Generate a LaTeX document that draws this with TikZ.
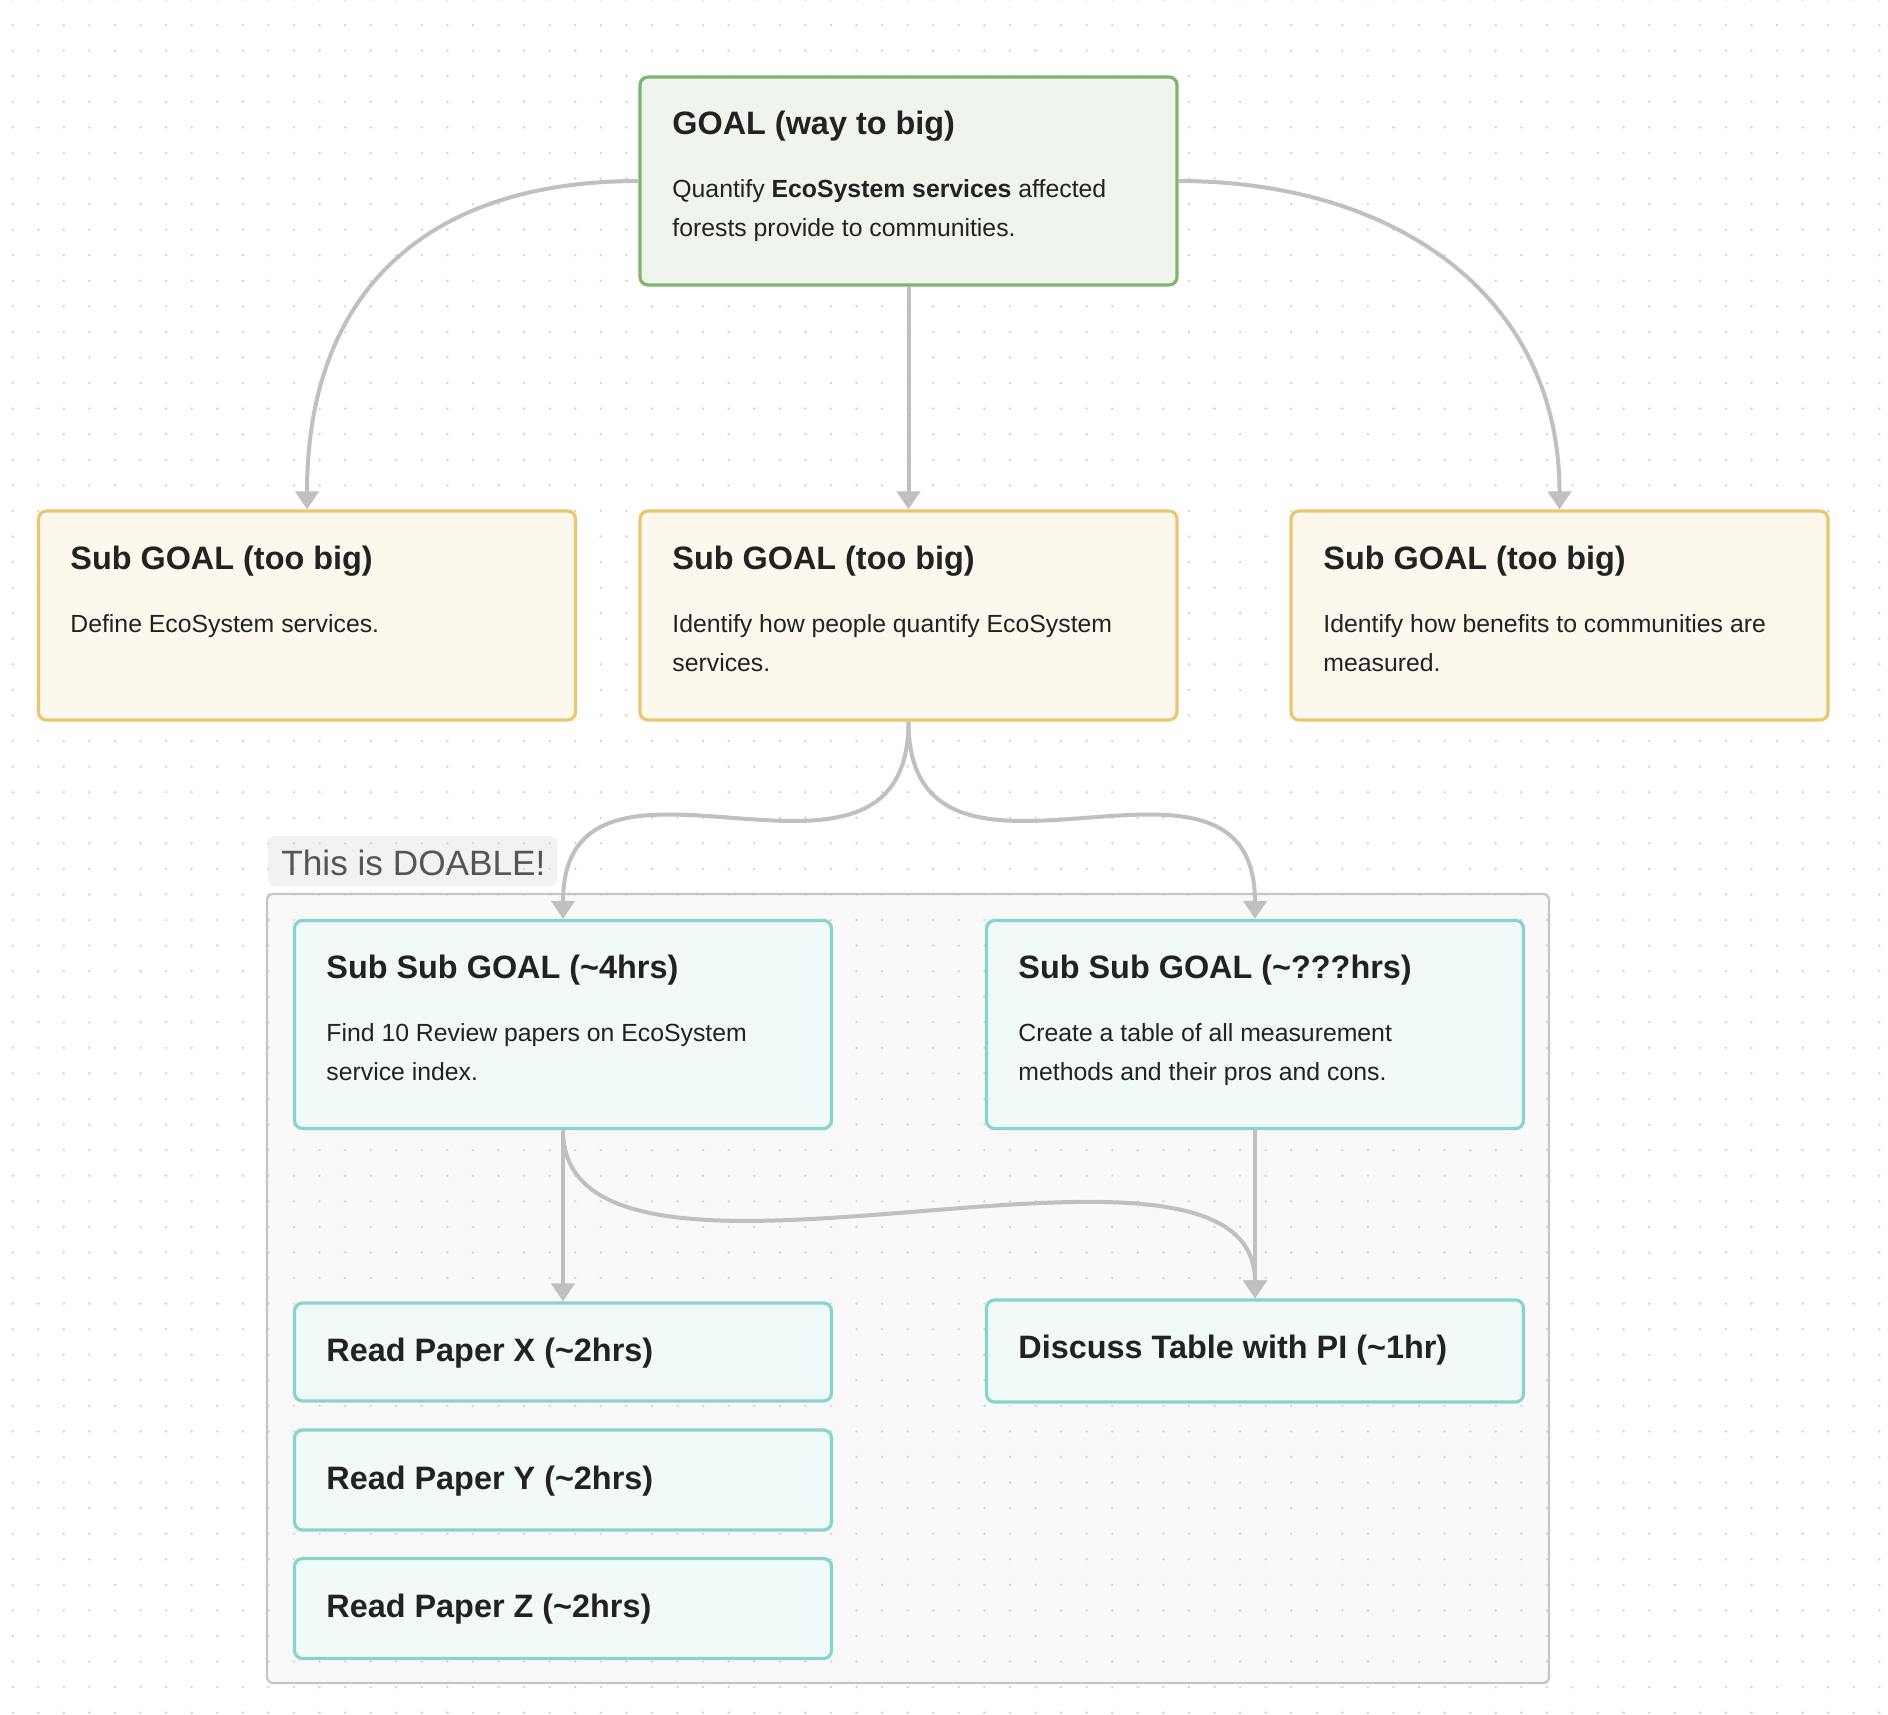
\documentclass[tikz,border=0pt]{standalone}
\usepackage{fontspec}
\setmainfont{Liberation Sans}
\usetikzlibrary{arrows.meta}
\definecolor{goalbd}{HTML}{7DB66B}
\definecolor{goalbg}{HTML}{EFF5EC}
\definecolor{subbd}{HTML}{EAC670}
\definecolor{subbg}{HTML}{FCF8EE}
\definecolor{tealbd}{HTML}{86D3CF}
\definecolor{tealbg}{HTML}{F1F9F9}
\definecolor{grpbg}{HTML}{F9F9F9}
\definecolor{grpbd}{HTML}{C6C6C6}
\definecolor{lblbg}{HTML}{F2F2F2}
\definecolor{txt}{HTML}{222222}
\definecolor{lbltxt}{HTML}{555555}
\definecolor{conncol}{HTML}{C0C0C0}
\definecolor{dotcol}{HTML}{D6D6D6}
\tikzset{
  card/.style={draw, rectangle, rounded corners=4pt, line width=1.6pt, inner sep=0pt, minimum width=268.5pt},
  goalcard/.style={card, draw=goalbd, fill=goalbg},
  subcard/.style={card, draw=subbd, fill=subbg},
  tealcard/.style={card, draw=tealbd, fill=tealbg},
  ttl/.style={anchor=base west, inner sep=0pt, text=txt, font=\bfseries\fontsize{16.2}{19}\selectfont},
  bdy/.style={anchor=base west, inner sep=0pt, text=txt, font=\fontsize{12.4}{19.5}\selectfont},
  conn/.style={draw=conncol, line width=2pt, -{Triangle[width=11.5pt,length=9pt]}}
}
\begin{document}
\begin{tikzpicture}[x=0.5pt,y=-0.5pt]
\useasboundingbox (0,0) rectangle (1888,1714);
\fill[white] (0,0) rectangle (1888,1714);
% group background and label background
\fill[grpbg, rounded corners=3pt] (267,894) rectangle (1549,1683);
\fill[lblbg, rounded corners=3pt] (268,836) rectangle (557,886);
% dot grid
\foreach \i in {0,...,73} {
  \foreach \j in {0,...,67} {
    \fill[dotcol] (12.7+25.57*\i, -0.5+25.57*\j) circle[radius=0.7pt];
  }
}
\draw[grpbd, line width=1.1pt, rounded corners=3pt] (267,894) rectangle (1549,1683);
\node[anchor=base west, inner sep=0pt, text=lbltxt, font=\fontsize{17.6}{20}\selectfont] (lbl) at (281,875) {This is DOABLE!};

% cards
\node[goalcard, minimum height=104pt] (goal) at (908.5,181) {};
\node[subcard, minimum height=104.5pt] (subL) at (307,615.5) {};
\node[subcard, minimum height=104.5pt] (subM) at (908.5,615.5) {};
\node[subcard, minimum height=104.5pt] (subR) at (1559.5,615.5) {};
\node[tealcard, minimum height=104pt] (ssL) at (563,1024.5) {};
\node[tealcard, minimum height=104pt] (ssR) at (1255,1024.5) {};
\node[tealcard, minimum height=49pt] (rpX) at (563,1352) {};
\node[tealcard, minimum height=50pt] (rpY) at (563,1480) {};
\node[tealcard, minimum height=50pt] (rpZ) at (563,1608.5) {};
\node[tealcard, minimum height=51pt] (disc) at (1255,1351) {};

% texts
\node[ttl] (goalT) at (672,134) {GOAL (way to big)};
\node[bdy] (goalB1) at (672,197) {Quantify \textbf{EcoSystem services} affected};
\node[bdy] (goalB2) at (672,236) {forests provide to communities.};

\node[ttl] (subLT) at (70,569) {Sub GOAL (too big)};
\node[bdy] (subLB1) at (70,632) {Define EcoSystem services.};

\node[ttl] (subMT) at (672,569) {Sub GOAL (too big)};
\node[bdy] (subMB1) at (672,632) {Identify how people quantify EcoSystem};
\node[bdy] (subMB2) at (672,671) {services.};

\node[ttl] (subRT) at (1323,569) {Sub GOAL (too big)};
\node[bdy] (subRB1) at (1323,632) {Identify how benefits to communities are};
\node[bdy] (subRB2) at (1323,671) {measured.};

\node[ttl] (ssLT) at (326,978) {Sub Sub GOAL (\textasciitilde4hrs)};
\node[bdy] (ssLB1) at (326,1041) {Find 10 Review papers on EcoSystem};
\node[bdy] (ssLB2) at (326,1080) {service index.};

\node[ttl] (ssRT) at (1018,978) {Sub Sub GOAL (\textasciitilde???hrs)};
\node[bdy] (ssRB1) at (1018,1041) {Create a table of all measurement};
\node[bdy] (ssRB2) at (1018,1080) {methods and their pros and cons.};

\node[ttl] (rpXT) at (326,1361) {Read Paper X (\textasciitilde2hrs)};
\node[ttl] (rpYT) at (326,1489) {Read Paper Y (\textasciitilde2hrs)};
\node[ttl] (rpZT) at (326,1617) {Read Paper Z (\textasciitilde2hrs)};
\node[ttl] (discT) at (1018,1358) {Discuss Table with PI (\textasciitilde1hr)};

% connectors
\draw[conn] (goal.west) .. controls +(-215,0) and +(0,-215) .. (subL.north);
\draw[conn] (goal.south) -- (subM.north);
\draw[conn] (goal.east) .. controls +(215,0) and +(0,-215) .. (subR.north);
\draw[conn] (subM.south) .. controls +(0,215) and +(0,-215) .. (ssL.north);
\draw[conn] (subM.south) .. controls +(0,215) and +(0,-215) .. (ssR.north);
\draw[conn] (ssL.south) -- (rpX.north);
\draw[conn] (ssL.south) .. controls +(0,215) and +(0,-215) .. (disc.north);
\draw[conn] (ssR.south) -- (disc.north);
\end{tikzpicture}
\end{document}
